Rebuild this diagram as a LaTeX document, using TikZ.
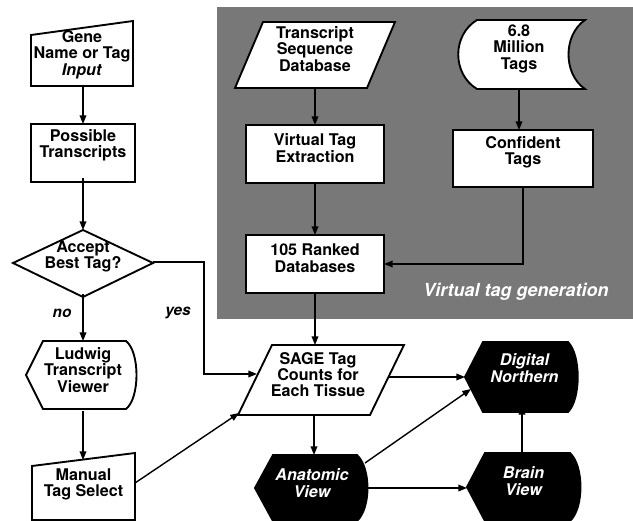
\documentclass[tikz,border=0pt]{standalone}
\usepackage{fontspec}
\setmainfont{TeX Gyre Heros}
\usetikzlibrary{arrows.meta,fit,calc}
\definecolor{panel}{RGB}{120,120,120}
\begin{document}
\begin{tikzpicture}[x=0.75pt,y=-0.75pt,
  outline/.style={draw=black,line width=1.4pt,fill=white,line join=miter},
  darkshape/.style={draw=black,line width=1.4pt,fill=black},
  body/.style={inner sep=0pt,outer sep=0pt,align=center,font=\fontsize{12.1}{12.3}\selectfont\bfseries},
  wbody/.style={body,text=white,font=\fontsize{12.1}{12.3}\selectfont\bfseries\itshape},
  conn/.style={line width=1.05pt,-{Triangle[length=6.5pt,width=5pt]}},
  lbl/.style={font=\fontsize{11.5}{12}\selectfont\bfseries\itshape,inner sep=0pt}]
\useasboundingbox (0,0) rectangle (633,521);
% panel
\fill[panel] (217,7) rectangle (640,319);
% outlines
\draw[outline] (31,35) -- (133,21) -- (133,86) -- (31,86) -- cycle;
\draw[outline] (31,124) rectangle (135,182);
\draw[outline] (83,230) -- (153,263) -- (83,297) -- (13,263) -- cycle;
\draw[outline] (26,375) -- (43,341) -- (126,341) .. controls (140,352) and (140,398) .. (126,409) -- (43,409) -- cycle;
\draw[outline] (32,466) -- (135,453) -- (135,520) -- (32,520) -- cycle;
\draw[outline] (263,22) -- (395,22) -- (367,88) -- (235,88) -- cycle;
\draw[outline] (246,125) rectangle (384,183);
\draw[outline] (246,235) rectangle (384,293);
\draw[outline] (477,20) -- (585,20) .. controls (563,35) and (563,74) .. (585,89) -- (477,89) .. controls (452,74) and (452,35) .. (477,20) -- cycle;
\draw[outline] (453,130) rectangle (593,187);
\draw[outline] (272,345) -- (404,345) -- (370,415) -- (238,415) -- cycle;
\draw[darkshape] (465,377) -- (483,342) -- (568,342) .. controls (581,355) and (581,399) .. (568,412) -- (483,412) -- cycle;
\draw[darkshape] (255,488) -- (273,455) -- (357,455) .. controls (371,468) and (371,508) .. (357,521) -- (273,521) -- cycle;
\draw[darkshape] (467,487) -- (485,453) -- (570,453) .. controls (584,466) and (584,508) .. (570,521) -- (485,521) -- cycle;
% nodes
\node[body,fit={(31,35) (133,86)}] (gene) {Gene\\Name or Tag\\\textit{Input}};
\node[body,fit={(31,124) (135,178)}] (poss) {Possible\\Transcripts};
\node[body,fit={(13,230) (153,294)}] (acc) {Accept\\Best Tag?};
\node[body,fit={(26,341) (140,411)}] (lud) {Ludwig\\Transcript\\Viewer};
\node[body,fit={(32,466) (135,514)}] (man) {Manual\\Tag Select};
\node[body,fit={(235,22) (395,88)}] (tsd) {Transcript\\Sequence\\Database};
\node[body,fit={(246,125) (384,183)}] (vte) {Virtual Tag\\Extraction};
\node[body,fit={(246,235) (384,293)}] (rank) {105 Ranked\\Databases};
\node[body,fit={(458,20) (580,89)}] (mil) {6.8\\Million\\Tags};
\node[body,fit={(453,130) (593,187)}] (conf) {Confident\\Tags};
\node[body,fit={(238,345) (398,416)}] (sage) {SAGE Tag\\Counts for\\Each Tissue};
\node[wbody,fit={(467,342) (582,406)}] (dn) {Digital\\Northern};
\node[wbody,fit={(255,455) (369,523)}] (ana) {Anatomic\\View};
\node[wbody,fit={(467,453) (580,521)}] (brain) {Brain\\View};
\node[lbl] (no) at (62,313) {no};
\node[lbl] (yes) at (178,313) {yes};
\node[lbl,text=white,font=\fontsize{13.5}{14}\selectfont\bfseries\itshape] (vtg) at (516,292) {Virtual tag generation};
% coordinates
\coordinate (manin) at (83,460);
\coordinate (manout) at (135,483);
\coordinate (sagein) at (257,374);
\coordinate (sagell) at (239,413);
\coordinate (sageout) at (389,377);
\coordinate (dnw) at (465,377);
\coordinate (dnin) at (471,389);
\coordinate (anaout) at (365,463);
\coordinate (anaR) at (368,488);
\coordinate (brainW) at (467,488);
\coordinate (anatop) at (314,455);
\coordinate (braintop) at (522,453);
% connectors
\draw[conn] (gene.south -| poss.north) -- (poss.north);
\draw[conn] (poss.south -| acc.north) -- (acc.north);
\draw[conn] (acc.south) -- (acc.south |- lud.north);
\draw[conn] (acc.south |- lud.south) -- (manin);
\draw[conn] (acc.east) -- ++(51,0) |- (sagein);
\draw[conn] (manout) -- (sagell);
\draw[conn] (tsd.south) -- (vte.north);
\draw[conn] (vte.south) -- (rank.north);
\draw[conn] (rank.south) -- (rank.south |- sage.north);
\draw[conn] (mil.south) -- (mil.south |- conf.north);
\draw[conn] (conf.south) |- (rank.east);
\draw[conn] (sageout) -- (dnw);
\draw[conn] (anatop |- sage.south) -- (anatop);
\draw[conn] (anaR) -- (brainW);
\draw[conn] (anaout) -- (dnin);
\draw[conn] (braintop) -- (braintop |- dn.south);
\end{tikzpicture}
\end{document}
